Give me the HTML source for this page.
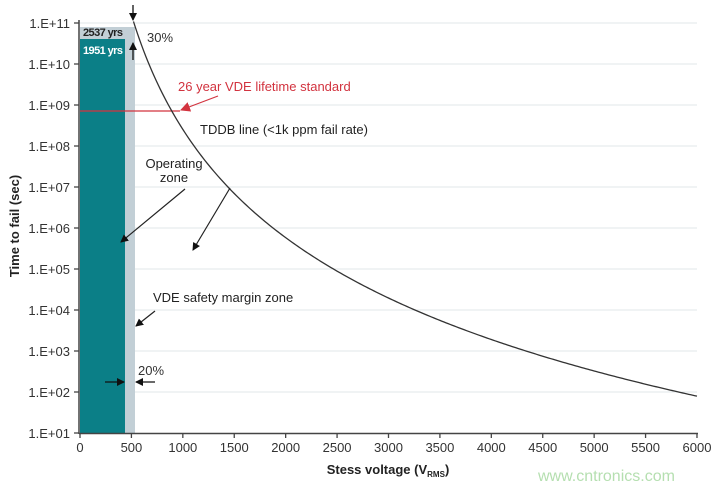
<!DOCTYPE html>
<html><head><meta charset="utf-8"><style>
html,body{margin:0;padding:0;background:#fff;}
svg{display:block;font-family:"Liberation Sans",Arial,sans-serif;}
</style></head><body>
<svg width="721" height="491" viewBox="0 0 721 491" xmlns="http://www.w3.org/2000/svg">
<defs>
<marker id="ab" markerWidth="8" markerHeight="8" refX="7" refY="4" orient="auto" markerUnits="userSpaceOnUse"><path d="M0,0 L8,4 L0,8 z" fill="#111"/></marker>
<marker id="ar" markerWidth="10" markerHeight="10" refX="9" refY="5" orient="auto" markerUnits="userSpaceOnUse"><path d="M0,0 L10,5 L0,10 z" fill="#d2333f"/></marker>
</defs>
<g stroke="#e8ecee" stroke-width="1.2">
<line x1="80" x2="697" y1="23" y2="23"/><line x1="80" x2="697" y1="64" y2="64"/><line x1="80" x2="697" y1="105" y2="105"/><line x1="80" x2="697" y1="146" y2="146"/><line x1="80" x2="697" y1="187" y2="187"/><line x1="80" x2="697" y1="228" y2="228"/><line x1="80" x2="697" y1="269" y2="269"/><line x1="80" x2="697" y1="310" y2="310"/><line x1="80" x2="697" y1="351" y2="351"/><line x1="80" x2="697" y1="392" y2="392"/>
</g>
<rect x="80" y="27" width="55" height="406" fill="#c2cfd6"/>
<rect x="80" y="39" width="45" height="394" fill="#0b7f87"/>
<text x="83" y="36" font-size="11" font-weight="bold" fill="#222" textLength="40">2537 yrs</text>
<text x="83" y="54" font-size="11" font-weight="bold" fill="#fff" textLength="40">1951 yrs</text>
<line x1="80" y1="111" x2="180" y2="111" stroke="#d2333f" stroke-width="1.2"/>
<line x1="218" y1="96" x2="181" y2="110" stroke="#d2333f" stroke-width="1.2" marker-end="url(#ar)"/>
<text x="178" y="91" font-size="13" fill="#d2333f">26 year VDE lifetime standard</text>
<path id="curve" d="" fill="none" stroke="#333" stroke-width="1.3"/>
<g stroke="#444" stroke-width="1.5">
<line x1="79" y1="20" x2="79" y2="434"/><line x1="79" y1="433.5" x2="698" y2="433.5"/>
</g>
<g stroke="#444" stroke-width="1.3">
<line x1="74" x2="79" y1="23" y2="23"/><line x1="74" x2="79" y1="64" y2="64"/><line x1="74" x2="79" y1="105" y2="105"/><line x1="74" x2="79" y1="146" y2="146"/><line x1="74" x2="79" y1="187" y2="187"/><line x1="74" x2="79" y1="228" y2="228"/><line x1="74" x2="79" y1="269" y2="269"/><line x1="74" x2="79" y1="310" y2="310"/><line x1="74" x2="79" y1="351" y2="351"/><line x1="74" x2="79" y1="392" y2="392"/><line x1="74" x2="79" y1="433" y2="433"/>
</g>
<g font-size="13" fill="#333" text-anchor="end">
<text x="70" y="28">1.E+11</text><text x="70" y="69">1.E+10</text><text x="70" y="110">1.E+09</text><text x="70" y="151">1.E+08</text><text x="70" y="192">1.E+07</text><text x="70" y="233">1.E+06</text><text x="70" y="274">1.E+05</text><text x="70" y="315">1.E+04</text><text x="70" y="356">1.E+03</text><text x="70" y="397">1.E+02</text><text x="70" y="438">1.E+01</text>
</g>
<g id="xt" stroke="#444" stroke-width="1.3"></g>
<g id="xl" font-size="13" fill="#333" text-anchor="middle"></g>
<text x="388" y="474" font-size="13" font-weight="bold" fill="#222" text-anchor="middle">Stess voltage (V<tspan font-size="8" dy="3">RMS</tspan><tspan dy="-3">)</tspan></text>
<text transform="translate(19,226) rotate(-90)" font-size="13" font-weight="bold" fill="#222" text-anchor="middle">Time to fail (sec)</text>
<text x="147" y="42" font-size="13" fill="#333">30%</text>
<line x1="133" y1="5" x2="133" y2="20" stroke="#111" stroke-width="1.3" marker-end="url(#ab)"/>
<line x1="133" y1="60" x2="133" y2="43" stroke="#111" stroke-width="1.3" marker-end="url(#ab)"/>
<text x="200" y="134" font-size="13" fill="#222">TDDB line (&lt;1k ppm fail rate)</text>
<text x="174" y="168" font-size="13" fill="#222" text-anchor="middle">Operating</text>
<text x="174" y="182" font-size="13" fill="#222" text-anchor="middle">zone</text>
<line x1="185" y1="189" x2="121" y2="242" stroke="#222" stroke-width="1.2" marker-end="url(#ab)"/>
<line x1="230" y1="188" x2="193" y2="250" stroke="#222" stroke-width="1.2" marker-end="url(#ab)"/>
<text x="153" y="302" font-size="13" fill="#222">VDE safety margin zone</text>
<line x1="155" y1="311" x2="136" y2="326" stroke="#222" stroke-width="1.2" marker-end="url(#ab)"/>
<text x="138" y="375" font-size="13" fill="#333">20%</text>
<line x1="105" y1="382" x2="124" y2="382" stroke="#111" stroke-width="1.3" marker-end="url(#ab)"/>
<line x1="155" y1="382" x2="136" y2="382" stroke="#111" stroke-width="1.3" marker-end="url(#ab)"/>
<text x="538" y="481" font-size="16" fill="#b5dfb0">www.cntronics.com</text>
</svg>
<script>
(function(){
var ns="http://www.w3.org/2000/svg";
var xt=document.getElementById("xt"),xl=document.getElementById("xl");
for(var v=0;v<=6000;v+=500){var x=80+v*0.10283;
var l=document.createElementNS(ns,"line");l.setAttribute("x1",x);l.setAttribute("x2",x);l.setAttribute("y1",433);l.setAttribute("y2",438);xt.appendChild(l);
var t=document.createElementNS(ns,"text");t.setAttribute("x",x);t.setAttribute("y",452);t.textContent=v;xl.appendChild(t);}
var d="";
for(var V=520;V<=6000;V+=20){var L=Math.log(V)/Math.LN10;
var lt=43.193-14.164*L+0.856*L*L;
var x=80+V*0.10283,y=23+(11-lt)*41;
d+=(d?" L":"M")+x.toFixed(2)+","+y.toFixed(2);}
document.getElementById("curve").setAttribute("d",d);
})();
</script>
</body></html>
